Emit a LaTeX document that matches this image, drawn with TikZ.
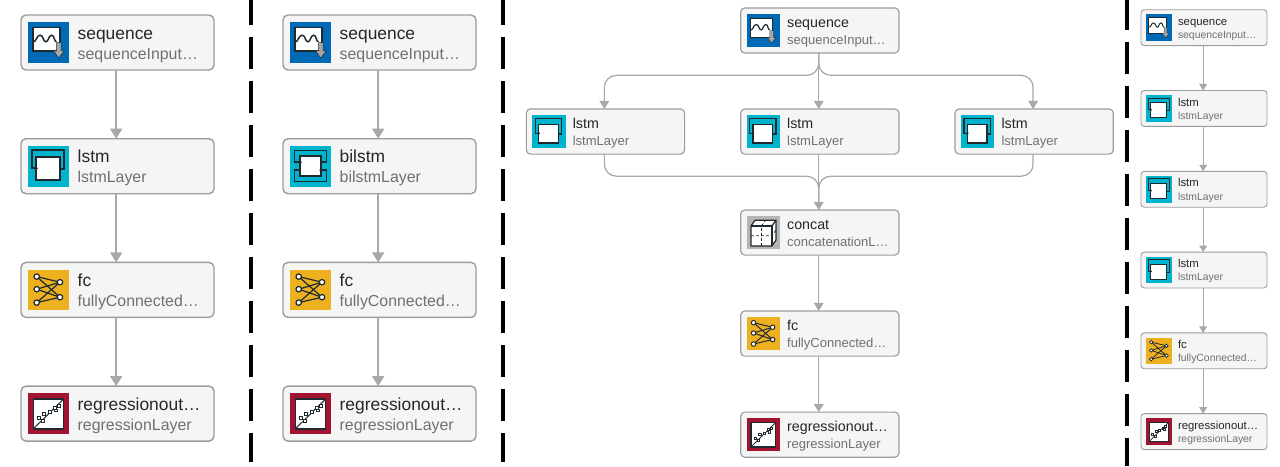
\documentclass[tikz,border=0pt]{standalone}
\usepackage{fontspec}
\setmainfont{Liberation Sans}
\usepackage{xcolor}
\usetikzlibrary{positioning,arrows.meta}

\definecolor{boxfill}{HTML}{F5F5F5}
\definecolor{boxline}{HTML}{9C9C9C}
\definecolor{linkgray}{HTML}{A8A8A8}
\definecolor{titletext}{HTML}{262626}
\definecolor{typetext}{HTML}{707070}
\definecolor{icondark}{HTML}{1F2A30}
\definecolor{seqblue}{HTML}{0069B5}
\definecolor{lstmcyan}{HTML}{00B4CE}
\definecolor{fcyellow}{HTML}{EDB120}
\definecolor{regred}{HTML}{A2142F}
\definecolor{concatgray}{HTML}{B5B5B5}

\def\k{1}

\tikzset{
    layer/.style={rectangle, draw=boxline, fill=boxfill, rounded corners=\k*5pt, line width=\k*1.4pt,
        minimum width=193pt, minimum height=55pt, inner sep=0pt, outer sep=0pt},
    layertitle/.style={anchor=base west, inner sep=0pt, text=titletext, font=\fontsize{17.4}{20}\selectfont},
    layertype/.style={anchor=base west, inner sep=0pt, text=typetext, font=\fontsize{15.9}{20}\selectfont},
    link/.style={-{Triangle[length=10pt,width=12pt,scale=\k]}, draw=linkgray, line width=\k*1.5pt,
        transform canvas={xshift=\k*-1.3pt}},
    merge/.style={draw=linkgray, line width=\k*1.5pt, transform canvas={xshift=\k*-1.3pt}},
    divider/.style={draw=black, line width=4pt, dash pattern=on 32pt off 12pt},
    icon/.style={draw=icondark, line width=\k*1.5pt},
    iconbg/.pic={\fill[#1] (-20.3,-20.3) rectangle (20.3,20.3);},
    seqicon/.pic={
        \pic {iconbg=seqblue};
        \draw[icon, fill=white] (-15.6,-15) rectangle (11.7,8.4);
        \draw[icon] (-15,-0.7) .. controls (-12,-0.7) and (-12,-7.3) .. (-8.3,-7.3)
            .. controls (-5,-7.3) and (-5.5,-0.7) .. (-2.5,-0.7)
            .. controls (0,-0.7) and (0,-7.3) .. (3.3,-7.3)
            .. controls (6,-7.3) and (5.5,-0.7) .. (8,-0.7);
        \draw[draw=icondark, line width=\k*.5pt, fill=gray!70] (8,0) -- (12.5,0) -- (12.5,8.4) -- (15.7,8.4)
            -- (10.3,15.5) -- (5,8.4) -- (8,8.4) -- cycle;
    },
    lstmicon/.pic={
        \pic {iconbg=lstmcyan};
        \draw[icon] (11.5,3) -- (15.5,3) -- (15.5,-16) -- (-16.5,-16) -- (-16.5,2) -- (-12.5,2);
        \draw[icon, fill=white] (-12.5,-9) rectangle (11.5,14);
        \fill[icondark] (-12.5,2) circle (1.8);
    },
    bilstmicon/.pic={
        \pic {iconbg=lstmcyan};
        \draw[icon] (10.5,-4) -- (16,-4) -- (16,-15.5) -- (-16,-15.5) -- (-16,-4) -- (-10.5,-4);
        \draw[icon] (-10.5,4) -- (-16,4) -- (-16,15.5) -- (16,15.5) -- (16,4) -- (10.5,4);
        \draw[icon, fill=white] (-10.5,-10) rectangle (10.5,10);
        \fill[icondark] (-10.5,-4) circle (1.8);
        \fill[icondark] (10.5,4) circle (1.8);
    },
    fcicon/.pic={
        \pic {iconbg=fcyellow};
        \foreach \ya in {-13.3,-0.7,12.7}
            \foreach \yb in {-7.7,7.3}
                \draw[icon, line width=\k*1.2pt] (-11.8,\ya) -- (11.5,\yb);
        \foreach \ya in {-13.3,-0.7,12.7}
            \draw[icon, line width=\k*1.2pt, fill=white] (-11.8,\ya) circle (2.7);
        \foreach \yb in {-7.7,7.3}
            \draw[icon, line width=\k*1.2pt, fill=white] (11.5,\yb) circle (2.7);
    },
    regicon/.pic={
        \pic {iconbg=regred};
        \draw[icon, fill=white, line width=\k*1.8pt] (-15,-14.5) rectangle (15,15);
        \draw[icon, line width=\k*1pt] (-15,15) -- (15,-14.5);
        \foreach \px/\py in {-10/4.3,-4.3/0,-6/7.3,1/-1.7,6/-5.7,10/-7.7,7.7/-3.3}
            \draw[icon, fill=white, line width=\k*.8pt] (\px-1.4,\py-1.4) rectangle (\px+1.4,\py+1.4);
    },
    concaticon/.pic={
        \pic {iconbg=concatgray};
        \draw[icon, fill=white] (-15,-8) -- (-10,-15) -- (15.5,-15) -- (15.5,9.3) -- (10.6,16.3) -- (-15,16.3) -- cycle;
        \draw[icon] (-15,-8) -- (10.6,-8) -- (10.6,16.3);
        \draw[icon] (10.6,-8) -- (15.5,-15);
        \draw[icon, densely dashed, line width=\k*.9pt] (-15,4) -- (10.6,4) -- (15.5,-3);
        \draw[icon, densely dashed, line width=\k*.9pt] (-2.2,16.3) -- (-2.2,-8) -- (2.8,-15);
    },
}

% box, icon and the two lines of text of one layer
\newcommand{\layerblock}[5]{
    \node[layer, #2] (#1) {};
    \pic at ([xshift=27.5pt]#1.west) {#3};
    \node[layertitle] (#1title) at ([xshift=56.5pt,yshift=3.5pt]#1.west) {#4};
    \node[layertype] (#1type) at ([xshift=56.5pt,yshift=-16.5pt]#1.west) {#5};
}

\begin{document}
\begin{tikzpicture}[x=1pt, y=-1pt, node distance=123.7pt]
    \useasboundingbox (0,0) rectangle (1280,466);

    \draw[divider, dash phase=7pt] (251,0) -- (251,462);
    \draw[divider, dash phase=7pt] (503,0) -- (503,462);
    \draw[divider, dash phase=2pt] (1127,0) -- (1127,466);

    \begin{scope}[shift={(117.5,42.5)}, transform shape]
        \layerblock{seqa}{}{seqicon}{sequence}{sequenceInput…}
        \layerblock{lstma}{below of=seqa}{lstmicon}{lstm}{lstmLayer}
        \layerblock{fca}{below of=lstma}{fcicon}{fc}{fullyConnected…}
        \layerblock{rega}{below of=fca}{regicon}{regressionout…}{regressionLayer}
        \draw[link] (seqa) -- (lstma);
        \draw[link] (lstma) -- (fca);
        \draw[link] (fca) -- (rega);
    \end{scope}

    \begin{scope}[shift={(379.5,42.5)}, transform shape]
        \layerblock{seqb}{}{seqicon}{sequence}{sequenceInput…}
        \layerblock{bilstmb}{below of=seqb}{bilstmicon}{bilstm}{bilstmLayer}
        \layerblock{fcb}{below of=bilstmb}{fcicon}{fc}{fullyConnected…}
        \layerblock{regb}{below of=fcb}{regicon}{regressionout…}{regressionLayer}
        \draw[link] (seqb) -- (bilstmb);
        \draw[link] (bilstmb) -- (fcb);
        \draw[link] (fcb) -- (regb);
    \end{scope}

    \begin{scope}[shift={(819.8,30.5)}, scale=.82, transform shape, node distance=123.2pt]
        \def\k{.82}
        \layerblock{seqc}{}{seqicon}{sequence}{sequenceInput…}
        \layerblock{lstmcm}{below of=seqc}{lstmicon}{lstm}{lstmLayer}
        \layerblock{lstmcl}{left of=lstmcm, xshift=-138.2pt}{lstmicon}{lstm}{lstmLayer}
        \layerblock{lstmcr}{right of=lstmcm, xshift=138.2pt}{lstmicon}{lstm}{lstmLayer}
        \layerblock{concatc}{below of=lstmcm}{concaticon}{concat}{concatenationL…}
        \layerblock{fcc}{below of=concatc}{fcicon}{fc}{fullyConnected…}
        \layerblock{regc}{below of=fcc}{regicon}{regressionout…}{regressionLayer}

        \coordinate (forkl) at ([yshift=41pt]lstmcl.north);
        \coordinate (forkr) at ([yshift=41pt]lstmcr.north);
        \coordinate (mergel) at ([yshift=-27pt]lstmcl.south);
        \coordinate (merger) at ([yshift=-27pt]lstmcr.south);

        \draw[link, rounded corners=12pt] (seqc.south) |- (forkl) -- (lstmcl.north);
        \draw[link, rounded corners=12pt] (seqc.south) |- (forkr) -- (lstmcr.north);
        \draw[link] (seqc) -- (lstmcm);
        \draw[merge, rounded corners=12pt] (lstmcl.south) -- (mergel) -| (concatc.north);
        \draw[merge, rounded corners=12pt] (lstmcr.south) -- (merger) -| (concatc.north);
        \draw[link] (lstmcm) -- (concatc);
        \draw[link] (concatc) -- (fcc);
        \draw[link] (fcc) -- (regc);
    \end{scope}

    \begin{scope}[shift={(1204,27.7)}, scale=.653, transform shape]
        \def\k{.653}
        \layerblock{seqd}{}{seqicon}{sequence}{sequenceInput…}
        \layerblock{lstmda}{below of=seqd}{lstmicon}{lstm}{lstmLayer}
        \layerblock{lstmdb}{below of=lstmda}{lstmicon}{lstm}{lstmLayer}
        \layerblock{lstmdc}{below of=lstmdb}{lstmicon}{lstm}{lstmLayer}
        \layerblock{fcd}{below of=lstmdc}{fcicon}{fc}{fullyConnected…}
        \layerblock{regd}{below of=fcd}{regicon}{regressionout…}{regressionLayer}
        \draw[link] (seqd) -- (lstmda);
        \draw[link] (lstmda) -- (lstmdb);
        \draw[link] (lstmdb) -- (lstmdc);
        \draw[link] (lstmdc) -- (fcd);
        \draw[link] (fcd) -- (regd);
    \end{scope}
\end{tikzpicture}
\end{document}
